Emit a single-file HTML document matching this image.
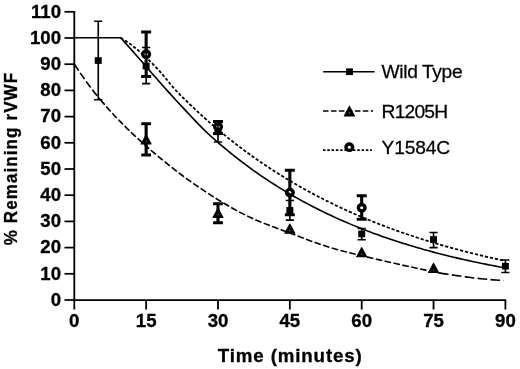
<!DOCTYPE html><html><head><meta charset="utf-8"><title>chart</title>
<style>html,body{margin:0;padding:0;background:#fff}svg{display:block}text{font-family:"Liberation Sans",sans-serif;fill:#000}</style></head><body>
<svg width="520" height="369" viewBox="0 0 520 369">
<rect width="520" height="369" fill="#fff"/>
<g transform="scale(1.04,1)">
<g stroke="#000" stroke-width="1.75" fill="none" stroke-linecap="butt">
<path d="M71.44,11.0 V300 H486.73"/>
<path d="M62.02,300 H71.44"/>
<path d="M62.02,273.8 H71.44"/>
<path d="M62.02,247.6 H71.44"/>
<path d="M62.02,221.4 H71.44"/>
<path d="M62.02,195.2 H71.44"/>
<path d="M62.02,169.0 H71.44"/>
<path d="M62.02,142.8 H71.44"/>
<path d="M62.02,116.6 H71.44"/>
<path d="M62.02,90.4 H71.44"/>
<path d="M62.02,64.2 H71.44"/>
<path d="M62.02,38.0 H71.44"/>
<path d="M62.02,11.8 H71.44"/>
<path d="M71.44,300 V309.5"/>
<path d="M140.53,300 V309.5"/>
<path d="M209.62,300 V309.5"/>
<path d="M278.70,300 V309.5"/>
<path d="M347.79,300 V309.5"/>
<path d="M416.88,300 V309.5"/>
<path d="M485.96,300 V309.5"/>
</g>
</g>
<g transform="scale(1.04,1)">
<g font-weight="bold" font-size="17.9px" text-anchor="end" stroke="#000" stroke-width="0.3">
<text x="58.65" y="305.8">0</text>
<text x="58.65" y="279.6">10</text>
<text x="58.65" y="253.4">20</text>
<text x="58.65" y="227.2">30</text>
<text x="58.65" y="201.0">40</text>
<text x="58.65" y="174.8">50</text>
<text x="58.65" y="148.6">60</text>
<text x="58.65" y="122.4">70</text>
<text x="58.65" y="96.2">80</text>
<text x="58.65" y="70.0">90</text>
<text x="58.65" y="43.8">100</text>
<text x="58.65" y="17.6">110</text>
</g>
<g font-weight="bold" font-size="17.9px" text-anchor="middle" stroke="#000" stroke-width="0.3">
<text x="71.44" y="326.8">0</text>
<text x="140.53" y="326.8">15</text>
<text x="209.62" y="326.8">30</text>
<text x="278.70" y="326.8">45</text>
<text x="347.79" y="326.8">60</text>
<text x="416.88" y="326.8">75</text>
<text x="485.96" y="326.8">90</text>
</g>
<text x="278.65" y="361.8" font-weight="bold" font-size="18.0px" stroke="#000" stroke-width="0.3" text-anchor="middle" textLength="138.5" lengthAdjust="spacing">Time (minutes)</text>
</g>
<text transform="translate(17.2,159.1) rotate(-90) scale(1,1.04)" font-weight="bold" font-size="17.0px" stroke="#000" stroke-width="0.3" text-anchor="middle" textLength="172.4" lengthAdjust="spacing">% Remaining rVWF</text>
<g transform="scale(1.04,1)">
<path d="M71.44,37.8 L115.96,37.80 L118.85,41.06 L121.73,44.37 L124.62,47.72 L127.50,51.10 L130.38,54.50 L133.27,57.91 L136.15,61.33 L139.04,64.78 L141.92,68.24 L144.81,71.69 L147.69,75.14 L150.58,78.59 L153.46,82.02 L156.35,85.43 L159.23,88.79 L162.12,92.11 L165.00,95.40 L167.88,98.67 L170.77,101.92 L173.65,105.16 L176.54,108.39 L179.42,111.59 L182.31,114.78 L185.19,117.96 L188.08,121.16 L190.96,124.32 L193.85,127.42 L196.73,130.39 L199.62,133.24 L202.50,135.98 L205.38,138.65 L208.27,141.27 L211.15,143.85 L214.04,146.41 L216.92,148.92 L219.81,151.40 L222.69,153.83 L225.58,156.23 L228.46,158.58 L231.35,160.90 L234.23,163.18 L237.12,165.43 L240.00,167.63 L242.88,169.80 L245.77,171.94 L248.65,174.04 L251.54,176.10 L254.42,178.13 L257.31,180.13 L260.19,182.10 L263.08,184.03 L265.96,185.94 L268.85,187.81 L271.73,189.65 L274.62,191.46 L277.50,193.24 L280.38,194.99 L283.27,196.72 L286.15,198.41 L289.04,200.08 L291.92,201.72 L294.81,203.34 L297.69,204.92 L300.58,206.49 L303.46,208.02 L306.35,209.53 L309.23,211.02 L312.12,212.48 L315.00,213.92 L317.88,215.34 L320.77,216.73 L323.65,218.10 L326.54,219.45 L329.42,220.77 L332.31,222.07 L335.19,223.36 L338.08,224.62 L340.96,225.86 L343.85,227.08 L346.73,228.28 L349.62,229.46 L352.50,230.62 L355.38,231.76 L358.27,232.89 L361.15,233.99 L364.04,235.08 L366.92,236.15 L369.81,237.20 L372.69,238.24 L375.58,239.26 L378.46,240.26 L381.35,241.24 L384.23,242.21 L387.12,243.17 L390.00,244.11 L392.88,245.03 L395.77,245.94 L398.65,246.83 L401.54,247.71 L404.42,248.57 L407.31,249.42 L410.19,250.26 L413.08,251.08 L415.96,251.89 L418.85,252.68 L421.73,253.47 L424.62,254.24 L427.50,254.99 L430.38,255.74 L433.27,256.47 L436.15,257.19 L439.04,257.90 L441.92,258.60 L444.81,259.29 L447.69,259.96 L450.58,260.63 L453.46,261.28 L456.35,261.92 L459.23,262.55 L462.12,263.18 L465.00,263.79 L467.88,264.39 L470.77,264.98 L473.65,265.56 L476.54,266.13 L479.42,266.69 L482.31,267.25 L485.19,267.80 L486.06,267.96" fill="none" stroke="#000" stroke-width="1.6" stroke-linejoin="round"/>
<path d="M115.96,37.80 L118.85,39.52 L121.73,41.47 L124.62,43.58 L127.50,45.84 L130.38,48.22 L133.27,50.71 L136.15,53.29 L139.04,56.00 L141.92,58.83 L144.81,61.78 L147.69,64.82 L150.58,67.96 L153.46,71.17 L156.35,74.55 L159.23,78.19 L162.12,81.92 L165.00,85.61 L167.88,89.07 L170.77,92.27 L173.65,95.33 L176.54,98.29 L179.42,101.19 L182.31,104.07 L185.19,106.93 L188.08,109.76 L190.96,112.55 L193.85,115.30 L196.73,118.00 L199.62,120.67 L202.50,123.30 L205.38,125.90 L208.27,128.45 L211.15,130.97 L214.04,133.46 L216.92,135.91 L219.81,138.32 L222.69,140.70 L225.58,143.05 L228.46,145.36 L231.35,147.64 L234.23,149.89 L237.12,152.10 L240.00,154.29 L242.88,156.44 L245.77,158.56 L248.65,160.65 L251.54,162.71 L254.42,164.75 L257.31,166.75 L260.19,168.72 L263.08,170.67 L265.96,172.59 L268.85,174.48 L271.73,176.35 L274.62,178.19 L277.50,180.00 L280.38,181.78 L283.27,183.55 L286.15,185.28 L289.04,186.99 L291.92,188.68 L294.81,190.34 L297.69,191.98 L300.58,193.60 L303.46,195.19 L306.35,196.76 L309.23,198.31 L312.12,199.83 L315.00,201.34 L317.88,202.82 L320.77,204.28 L323.65,205.72 L326.54,207.14 L329.42,208.54 L332.31,209.92 L335.19,211.28 L338.08,212.63 L340.96,213.95 L343.85,215.25 L346.73,216.53 L349.62,217.80 L352.50,219.05 L355.38,220.28 L358.27,221.49 L361.15,222.69 L364.04,223.87 L366.92,225.03 L369.81,226.17 L372.69,227.30 L375.58,228.42 L378.46,229.51 L381.35,230.60 L384.23,231.66 L387.12,232.71 L390.00,233.75 L392.88,234.77 L395.77,235.78 L398.65,236.77 L401.54,237.75 L404.42,238.71 L407.31,239.66 L410.19,240.60 L413.08,241.52 L415.96,242.43 L418.85,243.33 L421.73,244.22 L424.62,245.09 L427.50,245.95 L430.38,246.79 L433.27,247.63 L436.15,248.45 L439.04,249.27 L441.92,250.07 L444.81,250.85 L447.69,251.63 L450.58,252.40 L453.46,253.16 L456.35,253.90 L459.23,254.63 L462.12,255.36 L465.00,256.07 L467.88,256.78 L470.77,257.47 L473.65,258.15 L476.54,258.82 L479.42,259.48 L482.31,260.14 L485.19,260.79 L486.06,260.98" fill="none" stroke="#000" stroke-width="1.75" stroke-dasharray="3.1 1.85"/>
<path d="M71.44,64.20 L74.33,68.69 L77.21,73.09 L80.10,77.41 L82.98,81.62 L85.87,85.72 L88.75,89.69 L91.63,93.53 L94.52,97.22 L96.63,99.86" fill="none" stroke="#000" stroke-width="1.6" stroke-dasharray="7.6 2.7"/>
<path d="M96.63,99.86 L99.52,103.38 L102.40,106.82 L105.29,110.18 L108.17,113.46 L111.06,116.67 L113.94,119.81 L116.83,122.88 L119.71,125.89 L122.60,128.84 L125.48,131.73 L128.37,134.57 L131.25,137.37 L134.13,140.12 L137.02,142.83 L139.90,145.50 L142.79,148.13 L145.67,150.72 L148.56,153.28 L151.44,155.80 L154.33,158.29 L157.21,160.74 L160.10,163.17 L162.98,165.57 L165.87,167.94 L168.75,170.28 L171.63,172.60 L174.52,174.89 L177.40,177.13 L180.29,179.31 L183.17,181.44 L186.06,183.54 L188.94,185.61 L191.83,187.66 L194.71,189.69 L197.60,191.71 L200.48,193.70 L203.37,195.65 L206.25,197.55 L209.13,199.40 L212.02,201.20 L214.90,202.98 L217.79,204.75 L220.67,206.50 L223.56,208.21 L226.44,209.89 L229.33,211.52 L232.21,213.11 L235.10,214.64 L237.98,216.12 L240.87,217.53 L243.75,218.88 L246.63,220.19 L249.52,221.45 L252.40,222.68 L255.29,223.87 L258.17,225.04 L261.06,226.19 L263.94,227.32 L266.83,228.44 L269.71,229.55 L272.60,230.66 L275.48,231.78 L278.37,232.90 L281.25,234.04 L284.13,235.18 L287.02,236.33 L289.90,237.48 L292.79,238.63 L295.67,239.76 L298.56,240.88 L301.44,241.98 L304.33,243.06 L307.21,244.11 L310.10,245.13 L312.98,246.11 L315.87,247.05 L318.75,247.94 L321.63,248.81 L324.52,249.65 L327.40,250.46 L330.29,251.26 L333.17,252.03 L336.06,252.79 L338.94,253.54 L341.83,254.27 L344.71,254.99 L347.60,255.70 L350.48,256.40 L353.37,257.10 L356.25,257.79 L359.13,258.49 L362.02,259.18 L364.90,259.88 L367.79,260.58 L370.67,261.28 L373.56,261.97 L376.44,262.66 L379.33,263.34 L382.21,264.02 L385.10,264.69 L387.98,265.36 L390.87,266.03 L393.75,266.68 L396.63,267.34 L399.52,267.99 L402.40,268.63 L405.29,269.26 L408.17,269.89 L411.06,270.52 L413.94,271.14 L416.83,271.75 L419.71,272.37 L422.12,272.87" fill="none" stroke="#000" stroke-width="1.6" stroke-dasharray="6.4 2.35"/>
<path d="M422.12,272.87 L425.00,273.40 L427.88,273.86 L430.77,274.32 L433.65,274.77 L436.54,275.22 L439.42,275.66 L442.31,276.08 L445.19,276.50 L448.08,276.91 L450.96,277.30 L453.85,277.68 L456.73,278.05 L459.62,278.40 L462.50,278.73 L465.38,279.04 L468.27,279.32 L471.15,279.59 L474.04,279.84 L476.92,280.06 L479.81,280.25 L482.69,280.42 L484.38,280.50" fill="none" stroke="#000" stroke-width="1.6" stroke-dasharray="9.3 3.2"/>
<path d="M94.47,21.2 V99.8 M90.53,21.2 H98.41 M90.53,99.8 H98.41" stroke="#000" stroke-width="1.55" fill="none"/>
<rect x="91.12" y="57.18" width="6.7" height="6.7" fill="#000"/>
<path d="M140.53,47.4 V83.6 M136.59,47.4 H144.47 M136.59,83.6 H144.47" stroke="#000" stroke-width="1.55" fill="none"/>
<rect x="137.18" y="62.68" width="6.7" height="6.7" fill="#000"/>
<path d="M209.62,121.6 V142.0 M205.67,121.6 H213.56 M205.67,142.0 H213.56" stroke="#000" stroke-width="1.55" fill="none"/>
<rect x="206.27" y="128.45" width="6.7" height="6.7" fill="#000"/>
<path d="M278.70,200.4 V220.1 M274.76,200.4 H282.64 M274.76,220.1 H282.64" stroke="#000" stroke-width="1.55" fill="none"/>
<rect x="275.35" y="207.05" width="6.7" height="6.7" fill="#000"/>
<path d="M347.79,228.5 V239.7 M343.85,228.5 H351.73 M343.85,239.7 H351.73" stroke="#000" stroke-width="1.55" fill="none"/>
<rect x="344.44" y="230.63" width="6.7" height="6.7" fill="#000"/>
<path d="M416.88,232.4 V247.6 M412.93,232.4 H420.82 M412.93,247.6 H420.82" stroke="#000" stroke-width="1.55" fill="none"/>
<rect x="413.52" y="236.13" width="6.7" height="6.7" fill="#000"/>
<path d="M485.96,259.9 V272.5 M482.02,259.9 H489.90 M482.02,272.5 H489.90" stroke="#000" stroke-width="1.55" fill="none"/>
<rect x="482.61" y="262.85" width="6.7" height="6.7" fill="#000"/>
<path d="M140.53,123.7 V155.1 M135.82,123.7 H145.24 M135.82,155.1 H145.24" stroke="#000" stroke-width="3.0" fill="none"/>
<path d="M140.53,134.7 L145.34,143.9 H135.72 Z" fill="#000" stroke="#000" stroke-width="1.0" stroke-linejoin="round"/><circle cx="140.53" cy="141.1" r="0.65" fill="#808080"/>
<path d="M209.62,203.7 V222.7 M204.90,203.7 H214.33 M204.90,222.7 H214.33" stroke="#000" stroke-width="3.0" fill="none"/>
<path d="M209.62,208.3 L214.42,217.5 H204.81 Z" fill="#000" stroke="#000" stroke-width="1.0" stroke-linejoin="round"/><circle cx="209.62" cy="214.7" r="0.65" fill="#808080"/>
<path d="M278.70,224.0 L283.51,233.2 H273.89 Z" fill="#000" stroke="#000" stroke-width="1.0" stroke-linejoin="round"/><circle cx="278.70" cy="230.5" r="0.65" fill="#808080"/>
<path d="M347.79,247.6 L352.60,256.8 H342.98 Z" fill="#000" stroke="#000" stroke-width="1.0" stroke-linejoin="round"/><circle cx="347.79" cy="254.0" r="0.65" fill="#808080"/>
<path d="M416.88,263.3 L421.68,272.5 H412.07 Z" fill="#000" stroke="#000" stroke-width="1.0" stroke-linejoin="round"/><circle cx="416.88" cy="269.8" r="0.65" fill="#808080"/>
<path d="M140.53,32.0 V50.9 M140.53,57.5 V76.5 M135.72,32.0 H145.34 M135.72,76.5 H145.34" stroke="#000" stroke-width="3.0" fill="none"/>
<circle cx="140.53" cy="54.2" r="3.2" fill="none" stroke="#000" stroke-width="3.3"/>
<path d="M209.62,121.6 V123.5 M209.62,130.1 V133.6 M204.81,121.6 H214.42 M204.81,133.6 H214.42" stroke="#000" stroke-width="3.0" fill="none"/>
<circle cx="209.62" cy="126.8" r="3.2" fill="none" stroke="#000" stroke-width="3.3"/>
<path d="M278.70,170.3 V189.3 M278.70,195.9 V214.8 M273.89,170.3 H283.51 M273.89,214.8 H283.51" stroke="#000" stroke-width="3.0" fill="none"/>
<circle cx="278.70" cy="192.6" r="3.2" fill="none" stroke="#000" stroke-width="3.3"/>
<path d="M347.79,195.7 V204.5 M347.79,211.1 V219.3 M342.98,195.7 H352.60 M342.98,219.3 H352.60" stroke="#000" stroke-width="3.0" fill="none"/>
<circle cx="347.79" cy="207.8" r="3.2" fill="none" stroke="#000" stroke-width="3.3"/>
<path d="M310.77,71.7 H360.19" stroke="#000" stroke-width="1.5"/>
<rect x="332.71" y="68.35" width="6.7" height="6.7" fill="#000"/>
<path d="M310.58,111 H358.65" stroke="#000" stroke-width="1.6" stroke-dasharray="5.33 2.33"/>
<path d="M335.96,106.1 L340.87,116.0 H331.06 Z" fill="#000" stroke="#000" stroke-width="1.0" stroke-linejoin="round"/><circle cx="335.96" cy="113.0" r="0.65" fill="#808080"/>
<path d="M310.58,150.1 H357.69" stroke="#000" stroke-width="1.6" stroke-dasharray="2.4 1.72"/>
<circle cx="335.87" cy="147.2" r="3.2" fill="none" stroke="#000" stroke-width="3.3"/>
</g>
<g transform="scale(1.04,1)" font-size="18.5px" stroke="#000" stroke-width="0.25">
<text x="366.92" y="78.2" textLength="77.9" lengthAdjust="spacing">Wild Type</text>
<text x="366.92" y="117.6" textLength="63.9" lengthAdjust="spacing">R1205H</text>
<text x="366.92" y="154.1" textLength="65.9" lengthAdjust="spacing">Y1584C</text>
</g>
</svg></body></html>
